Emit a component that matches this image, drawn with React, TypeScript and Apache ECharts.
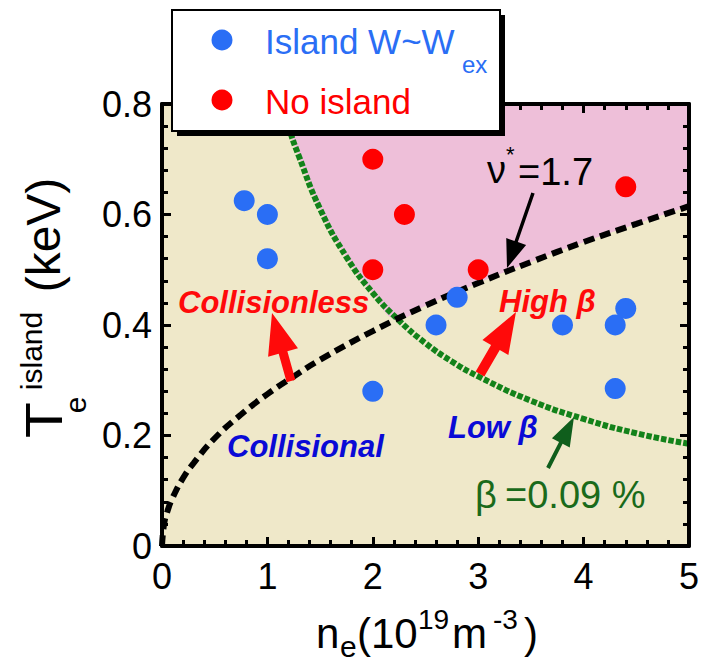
import React, { useEffect, useRef } from "react";
import * as echarts from "echarts";

// Electron density n_e (10^19 m^-3) and island temperature T_e (keV)
const islandN = [0.78, 1.0, 1.0, 2.0, 2.6, 2.8, 3.8, 4.3, 4.4, 4.3];
const islandT = [0.625, 0.6, 0.52, 0.28, 0.4, 0.45, 0.4, 0.4, 0.43, 0.285];
const noIslandN = [2.0, 2.3, 2.0, 3.0, 4.4];
const noIslandT = [0.7, 0.6, 0.5, 0.5, 0.65];

// Collisionality contour nu* = 1.7
const nuN = [0, 0.02, 0.05, 0.1, 0.2, 0.3, 0.5, 0.75, 1.0, 1.25, 1.5, 2.0, 2.5, 3.0, 3.5, 4.0, 4.5, 5.0];
const nuT = [0, 0.04, 0.062, 0.087, 0.123, 0.15, 0.195, 0.238, 0.275, 0.307, 0.337, 0.389, 0.435, 0.476, 0.514, 0.55, 0.583, 0.615];

// Beta contour beta = 0.09 %
const betaN = [1.15, 1.2, 1.3, 1.5, 1.75, 2.0, 2.25, 2.5, 2.75, 3.0, 3.5, 4.0, 4.5, 5.0];
const betaT = [0.8, 0.76, 0.705, 0.61, 0.523, 0.458, 0.408, 0.367, 0.334, 0.307, 0.263, 0.23, 0.204, 0.185];

// Where the two contours meet
const crossN = 2.24;
const crossT = 0.411;

const FONT = "'Liberation Sans', Arial, sans-serif";
const BLUE = "#2a6ef5";
const RED = "#ff0000";
const PINK = "#eebfd9";
const BEIGE = "#efe8c9";

type Pt = [number, number];

function arrow(tail: Pt, tip: Pt, shaftW: number, headLen: number, headW: number): number[][] {
  const dx = tip[0] - tail[0];
  const dy = tip[1] - tail[1];
  const len = Math.hypot(dx, dy);
  const ux = dx / len;
  const uy = dy / len;
  const px = -uy;
  const py = ux;
  const bx = tip[0] - ux * headLen;
  const by = tip[1] - uy * headLen;
  const s = shaftW / 2;
  const h = headW / 2;
  return [
    [tail[0] + px * s, tail[1] + py * s],
    [bx + px * s, by + py * s],
    [bx + px * h, by + py * h],
    [tip[0], tip[1]],
    [bx - px * h, by - py * h],
    [bx - px * s, by - py * s],
    [tail[0] - px * s, tail[1] - py * s],
  ];
}

function txt(
  text: string,
  x: number,
  y: number,
  fontSize: number,
  fill: string,
  extra: Record<string, any> = {},
  rotation = 0,
  scaleX = 1
) {
  return {
    type: "text",
    x,
    y,
    rotation,
    scaleX,
    z: 20,
    style: {
      text,
      fontSize,
      fontFamily: FONT,
      fill,
      align: "left",
      verticalAlign: "middle",
      ...extra,
    },
  };
}

export default function App() {
  const ref = useRef<HTMLDivElement>(null);

  useEffect(() => {
    if (!ref.current) return;
    const chart = echarts.init(ref.current, undefined, { renderer: "svg" });

    const islandData = islandN.map((n, i) => [n, islandT[i]]);
    const noIslandData = noIslandN.map((n, i) => [n, noIslandT[i]]);
    const nuData = nuN.map((n, i) => [n, nuT[i]]);
    const betaData = betaN.map((n, i) => [n, betaT[i]]);

    // Upper region: above both contours
    const pinkEdge: number[][] = [
      ...betaData.filter((p) => p[0] < crossN),
      [crossN, crossT],
      ...nuData.filter((p) => p[0] > crossN),
    ];

    const tickStyle = { color: "#000", width: 3 };
    const baseX = {
      type: "value",
      min: 0,
      max: 5,
      interval: 1,
      z: 5,
      axisLine: { show: true, onZero: false, lineStyle: { color: "#000", width: 4 } },
      axisTick: { show: true, inside: true, length: 9, lineStyle: tickStyle },
      minorTick: { show: true, splitNumber: 5, length: 6, lineStyle: tickStyle },
      splitLine: { show: false },
    };
    const baseY = {
      type: "value",
      min: 0,
      max: 0.8,
      interval: 0.2,
      z: 5,
      axisLine: { show: true, onZero: false, lineStyle: { color: "#000", width: 4 } },
      axisTick: { show: true, inside: true, length: 9, lineStyle: tickStyle },
      minorTick: { show: true, splitNumber: 5, length: 6, lineStyle: tickStyle },
      splitLine: { show: false },
    };

    const graphic: any[] = [
      // Legend box with drop shadow
      { type: "rect", z: 19, shape: { x: 177, y: 15, width: 328, height: 121 }, style: { fill: "#000" } },
      {
        type: "rect",
        z: 19,
        shape: { x: 172, y: 10, width: 328, height: 121 },
        style: { fill: "#fff", stroke: "#000", lineWidth: 2 },
      },
      { type: "circle", z: 20, shape: { cx: 222, cy: 40, r: 10.5 }, style: { fill: BLUE } },
      { type: "circle", z: 20, shape: { cx: 222, cy: 100, r: 10.5 }, style: { fill: RED } },
      txt("Island W~W", 265, 41, 35, BLUE),
      txt("ex", 462, 64, 24, BLUE),
      txt("No island", 265, 101, 35, RED),

      // y-axis title, rotated
      txt("T", 44, 420, 51, "#000", { align: "center" }, Math.PI / 2, 1.15),
      txt("e", 75, 405, 30, "#000", { align: "center" }, Math.PI / 2),
      txt("island", 31, 351, 30, "#000", { align: "center" }, Math.PI / 2),
      txt("(keV)", 43, 235, 48, "#000", { align: "center" }, Math.PI / 2),

      // x-axis title
      txt("n", 316, 633, 42, "#000"),
      txt("e", 340, 646, 30, "#000"),
      txt("(10", 357, 633, 42, "#000"),
      txt("19", 418, 619, 28, "#000"),
      txt("m", 452, 633, 42, "#000"),
      txt("-3", 493, 619, 28, "#000"),
      txt(")", 524, 633, 42, "#000"),

      // Region annotations
      txt("Collisionless", 178, 302, 31, "#ff0a0a", { fontWeight: "bold", fontStyle: "italic" }),
      txt("High β", 499, 301, 31, "#ff0a0a", { fontWeight: "bold", fontStyle: "italic" }),
      txt("Low β", 448, 427, 31, "#0a0ad6", { fontWeight: "bold", fontStyle: "italic" }),
      txt("Collisional", 227, 446, 31, "#0a0ad6", { fontWeight: "bold", fontStyle: "italic" }),

      // Contour labels
      txt("ν", 487, 170, 38, "#000"),
      txt("*", 506, 154, 22, "#000"),
      txt("=1.7", 518, 172, 38, "#000"),
      txt("β", 475, 495, 38, "#1a6a1a"),
      txt("=0.09 %", 505, 495, 38, "#1a6a1a"),

      // Arrows
      {
        type: "polygon",
        z: 18,
        shape: { points: arrow([533, 193], [507, 268], 3.5, 28, 21) },
        style: { fill: "#000" },
      },
      {
        type: "polygon",
        z: 18,
        shape: { points: arrow([291, 381], [272, 313], 9, 41, 31) },
        style: { fill: "#ff0a0a" },
      },
      {
        type: "polygon",
        z: 18,
        shape: { points: arrow([480, 374], [516, 312], 10, 41, 30) },
        style: { fill: "#ff0a0a" },
      },
      {
        type: "polygon",
        z: 18,
        shape: { points: arrow([548, 468], [574, 417], 4, 29, 20) },
        style: { fill: "#0f5e1c" },
      },
    ];

    chart.setOption({
      animation: false,
      backgroundColor: "#fff",
      grid: {
        left: 162,
        right: 13,
        top: 104,
        bottom: 116,
        show: true,
        backgroundColor: BEIGE,
        borderWidth: 0,
      },
      xAxis: [
        {
          ...baseX,
          position: "bottom",
          axisLabel: { show: true, fontSize: 36, color: "#000", fontFamily: FONT, margin: 12 },
        },
        { ...baseX, position: "top", axisLabel: { show: false } },
      ],
      yAxis: [
        {
          ...baseY,
          position: "left",
          axisLabel: { show: true, fontSize: 36, color: "#000", fontFamily: FONT, margin: 10 },
        },
        { ...baseY, position: "right", axisLabel: { show: false } },
      ],
      series: [
        {
          type: "line",
          z: 1,
          data: pinkEdge,
          smooth: true,
          symbol: "none",
          lineStyle: { width: 0 },
          areaStyle: { color: PINK, opacity: 1, origin: "end" },
          silent: true,
        },
        {
          type: "line",
          z: 2,
          data: betaData,
          smooth: true,
          symbol: "none",
          lineStyle: { color: "#13821a", width: 6, type: [5.5, 2], cap: "butt" },
        },
        {
          type: "line",
          z: 3,
          data: nuData,
          smooth: true,
          symbol: "none",
          lineStyle: { color: "#000", width: 6, type: [11, 6], cap: "butt" },
        },
        {
          type: "scatter",
          z: 4,
          data: islandData,
          symbolSize: 21,
          itemStyle: { color: BLUE, opacity: 1 },
        },
        {
          type: "scatter",
          z: 4,
          data: noIslandData,
          symbolSize: 21,
          itemStyle: { color: RED, opacity: 1 },
        },
      ],
      graphic,
    });

    return () => chart.dispose();
  }, []);

  return (
    <div
      ref={ref}
      style={{ position: "fixed", left: 0, top: 0, width: 702, height: 662, background: "#fff" }}
    />
  );
}
